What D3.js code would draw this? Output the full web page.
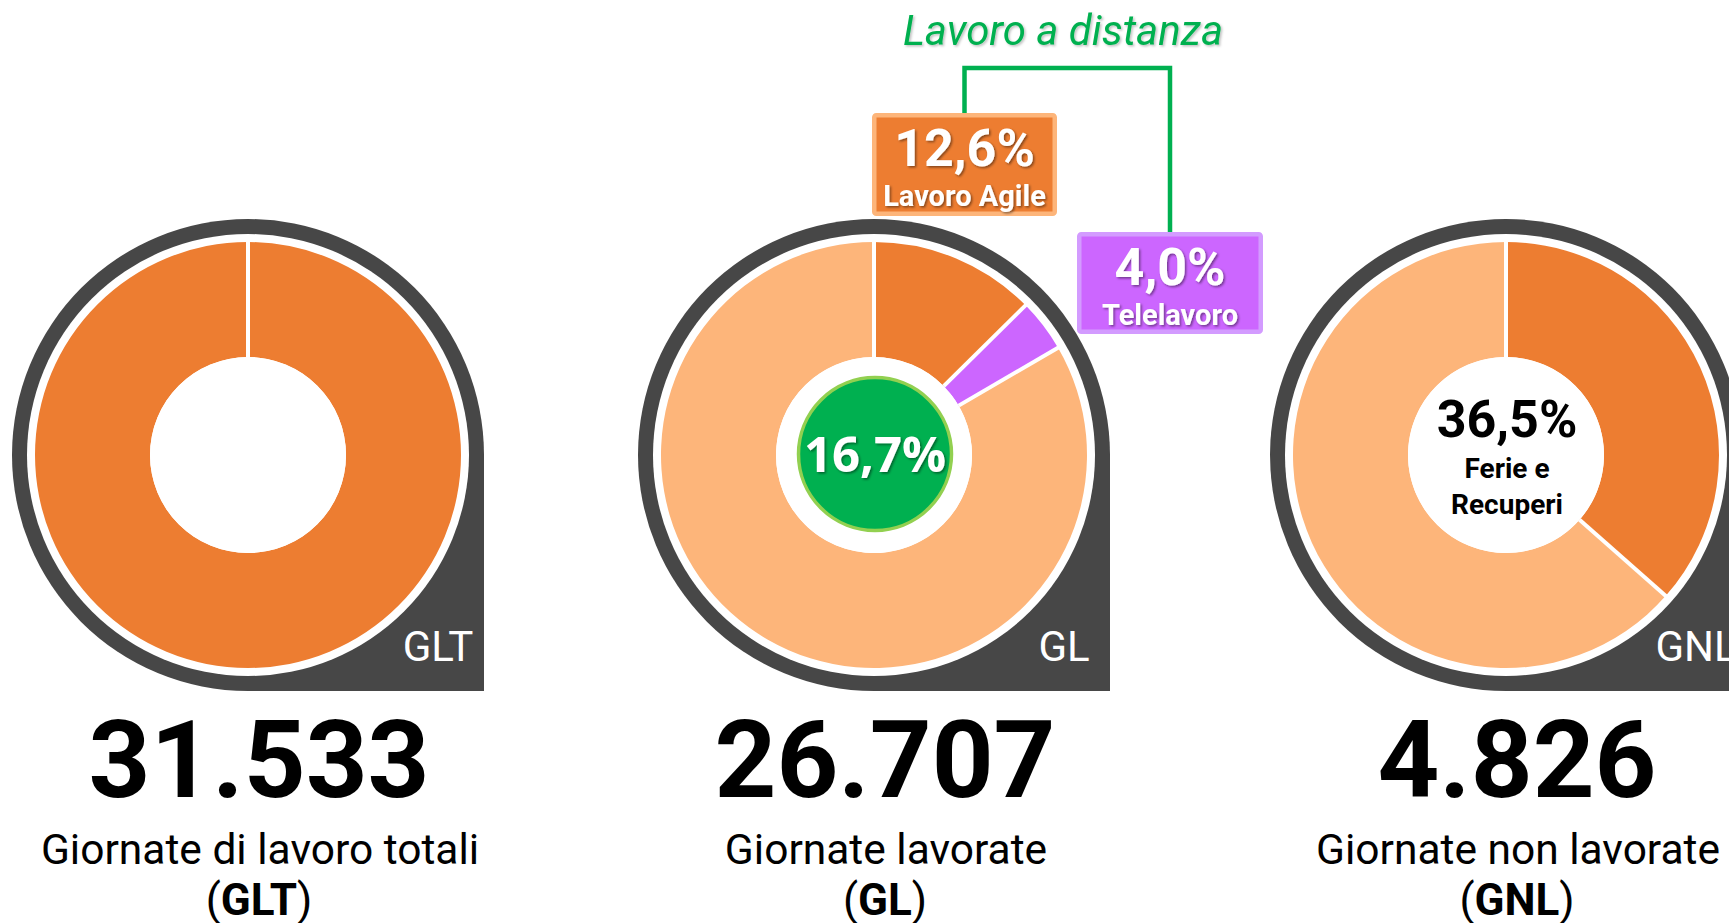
<!DOCTYPE html>
<html>
<head>
<meta charset="utf-8">
<script src="https://cdn.jsdelivr.net/npm/d3@7"></script>
<style>
  html, body { margin: 0; padding: 0; background: #fff; overflow: hidden; }
  svg { display: block; font-family: Roboto, "Noto Sans", sans-serif; }
</style>
</head>
<body>
<div class="chart"></div>
<script>
// Giornate di lavoro: three donut panels

// panel codes, totals and captions
var panelCodes = ["GLT", "GL", "GNL"];
var panelTotals = [31533, 26707, 4826];
var panelCaptions = ["Giornate di lavoro totali", "Giornate lavorate", "Giornate non lavorate"];

// slice shares (%) of each donut, clockwise from 12 o'clock
var gltShares = [100];
var glShares = [12.6, 4.0, 83.4];
var gnlShares = [36.5, 63.5];

// slice colours
var gltColors = ["#ED7D31"];
var glColors = ["#ED7D31", "#CC66FF", "#FDB57A"];
var gnlColors = ["#ED7D31", "#FDB57A"];

// callouts
var remoteLabel = "Lavoro a distanza";
var remoteShare = 16.7;
var calloutNames = ["Lavoro Agile", "Telelavoro"];
var calloutShares = [12.6, 4.0];
var holidayName = ["Ferie e", "Recuperi"];
var holidayShare = 36.5;

var W = 1729, H = 923;
var cy = 455;
var centers = [248, 874, 1506];
var rDark = 236, rWhite = 221, rOuter = 213, rInner = 98;

var it = d3.formatLocale({decimal: ",", thousands: ".", grouping: [3], currency: ["€", ""]});
var fmtInt = it.format(",d");
var fmtPct = function(v) { return it.format(".1f")(v) + "%"; };

var svg = d3.select(".chart").append("svg")
    .attr("width", W)
    .attr("height", H);

// drop shadow for white labels
var defs = svg.append("defs");
defs.append("filter").attr("id", "shadow")
    .attr("x", "-20%").attr("y", "-20%").attr("width", "140%").attr("height", "140%")
  .append("feDropShadow")
    .attr("dx", 1.5).attr("dy", 1.5).attr("stdDeviation", 1)
    .attr("flood-color", "#000").attr("flood-opacity", 0.45);
defs.append("filter").attr("id", "shadowLight")
    .attr("x", "-20%").attr("y", "-20%").attr("width", "140%").attr("height", "140%")
  .append("feDropShadow")
    .attr("dx", 1.5).attr("dy", 1.5).attr("stdDeviation", 1)
    .attr("flood-color", "#000").attr("flood-opacity", 0.25);

var pie = d3.pie().sort(null).value(function(d) { return d; });
var arc = d3.arc().innerRadius(rInner).outerRadius(rOuter);

var sharesList = [gltShares, glShares, gnlShares];
var colorsList = [gltColors, glColors, gnlColors];

centers.forEach(function(cx, i) {
    var g = svg.append("g").attr("transform", "translate(" + cx + "," + cy + ")");

    // dark frame: circle with squared bottom-right corner
    g.append("path")
        .attr("d", "M0," + rDark +
            " A" + rDark + "," + rDark + " 0 1 1 " + rDark + ",0" +
            " L" + rDark + "," + rDark + " Z")
        .attr("fill", "#474747");

    g.append("circle").attr("r", rWhite).attr("fill", "#fff");

    var slices = pie(sharesList[i]);
    g.selectAll(".slice")
        .data(slices)
        .enter().append("path")
        .attr("class", "slice")
        .attr("d", arc)
        .attr("fill", function(d, j) { return colorsList[i][j]; });

    // white separators at each slice start
    g.selectAll(".sep")
        .data(slices)
        .enter().append("line")
        .attr("class", "sep")
        .attr("x1", function(d) { return rInner * Math.sin(d.startAngle); })
        .attr("y1", function(d) { return -rInner * Math.cos(d.startAngle); })
        .attr("x2", function(d) { return (rOuter + 2) * Math.sin(d.startAngle); })
        .attr("y2", function(d) { return -(rOuter + 2) * Math.cos(d.startAngle); })
        .attr("stroke", "#fff")
        .attr("stroke-width", 4);

    g.append("circle").attr("r", rInner).attr("fill", "#fff");

    // code in the corner
    g.append("text")
        .attr("x", 190)
        .attr("y", 206)
        .attr("text-anchor", "middle")
        .attr("fill", "#fff")
        .style("font-size", "42px")
        .text(panelCodes[i]);

    // big total
    var tx = cx + 11;
    svg.append("text")
        .attr("x", tx)
        .attr("y", 797)
        .attr("text-anchor", "middle")
        .style("font-size", "108px")
        .style("font-weight", "bold")
        .attr("fill", "#000")
        .text(fmtInt(panelTotals[i]));

    svg.append("text")
        .attr("x", tx + 1)
        .attr("y", 864)
        .attr("text-anchor", "middle")
        .style("font-size", "42.5px")
        .attr("fill", "#000")
        .text(panelCaptions[i]);

    var l2 = svg.append("text")
        .attr("x", tx)
        .attr("y", 915)
        .attr("text-anchor", "middle")
        .style("font-size", "44px")
        .attr("fill", "#000");
    l2.append("tspan").text("(");
    l2.append("tspan").style("font-weight", "bold").text(panelCodes[i]);
    l2.append("tspan").text(")");
});

// centre of GL: total remote work
var gGL = svg.append("g").attr("transform", "translate(" + (centers[1] + 1) + "," + (cy - 1) + ")");
gGL.append("circle")
    .attr("r", 76.5)
    .attr("fill", "#00B050")
    .attr("stroke", "#92D050")
    .attr("stroke-width", 3.5);
gGL.append("text")
    .attr("y", 18)
    .attr("text-anchor", "middle")
    .attr("fill", "#fff")
    .attr("filter", "url(#shadow)")
    .style("font-family", "'Open Sans', Roboto, sans-serif")
    .style("font-size", "49px")
    .style("font-weight", "bold")
    .text(fmtPct(remoteShare));

// centre of GNL: holidays
var gGNL = svg.append("g").attr("transform", "translate(" + (centers[2] + 1) + "," + cy + ")");
gGNL.append("text")
    .attr("y", -18)
    .attr("text-anchor", "middle")
    .style("font-size", "52px")
    .style("font-weight", "bold")
    .attr("fill", "#000")
    .text(fmtPct(holidayShare));
holidayName.forEach(function(t, k) {
    gGNL.append("text")
        .attr("y", 23 + k * 36)
        .attr("text-anchor", "middle")
        .style("font-size", "28px")
        .style("font-weight", "bold")
        .attr("fill", "#000")
        .text(t);
});

// callout boxes for GL slices
var boxes = [
    {x: 872, y: 113, w: 185, h: 103, fill: glColors[0], border: "#FDB57A"},
    {x: 1077, y: 232, w: 186, h: 102, fill: glColors[1], border: "#D39BFF"}
];

// bracket joining the two callouts
var bx0 = boxes[0].x + boxes[0].w / 2, bx1 = boxes[1].x + boxes[1].w / 2;
svg.append("path")
    .attr("d", "M" + bx0 + "," + (boxes[0].y + 2) + " V68 H" + bx1 + " V" + (boxes[1].y + 2))
    .attr("fill", "none")
    .attr("stroke", "#00B050")
    .attr("stroke-width", 4.5);

svg.append("text")
    .attr("x", 1063)
    .attr("y", 45)
    .attr("text-anchor", "middle")
    .attr("fill", "#00B050")
    .attr("filter", "url(#shadowLight)")
    .style("font-size", "42px")
    .style("font-style", "italic")
    .text(remoteLabel);

boxes.forEach(function(b, k) {
    var g = svg.append("g").attr("transform", "translate(" + b.x + "," + b.y + ")");
    g.append("rect")
        .attr("x", 2.25).attr("y", 2.25)
        .attr("width", b.w - 4.5).attr("height", b.h - 4.5)
        .attr("rx", 2)
        .attr("fill", b.fill)
        .attr("stroke", b.border)
        .attr("stroke-width", 4.5);
    g.append("text")
        .attr("x", b.w / 2)
        .attr("y", 53)
        .attr("text-anchor", "middle")
        .attr("fill", "#fff")
        .attr("filter", "url(#shadow)")
        .style("font-size", "52px")
        .style("font-weight", "bold")
        .text(fmtPct(calloutShares[k]));
    g.append("text")
        .attr("x", b.w / 2)
        .attr("y", 93)
        .attr("text-anchor", "middle")
        .attr("fill", "#fff")
        .attr("filter", "url(#shadow)")
        .style("font-size", "29px")
        .style("font-weight", "bold")
        .text(calloutNames[k]);
});
</script>
</body>
</html>
